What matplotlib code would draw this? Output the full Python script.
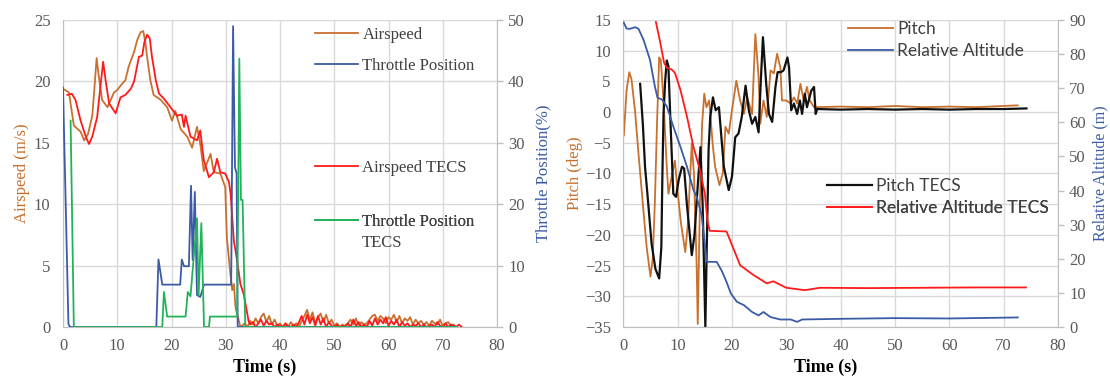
import matplotlib
matplotlib.use("Agg")
import matplotlib.pyplot as plt

# ---------------- LEFT PANEL DATA ----------------
airspeed_t = [0, 1.1, 2.0, 3.25, 3.9, 4.6, 5.4, 5.8, 6.2, 6.6, 7.2, 8.2, 9.4, 10, 10.7,
              11.5, 12.1, 13.1, 13.7, 14.3, 14.8, 15.2, 15.5, 16.1, 16.7, 18, 19.2, 20.1, 20.7, 21.7,
              22.9, 23.8, 24.7, 25.3, 25.95, 27.2, 27.8, 29, 29.9, 30.2, 30.9, 31.2, 31.5, 31.8, 32.7,
              33.0, 33.5, 34.0, 34.5, 35.0, 35.5, 36.0, 36.5, 37.0, 37.5, 38.0, 38.5, 39.0, 39.5, 40.0, 40.5,
              41.0, 41.5, 42.0, 42.5, 43.0, 43.5, 44.0, 44.5, 45.0, 45.5, 46.0, 46.5, 47.0, 47.5, 48.0, 48.5,
              49.0, 49.5, 50.0, 50.5, 51.0, 51.5, 52.0, 52.5, 53.0, 53.5, 54.0, 54.5, 55.0, 55.5, 56.0, 56.5,
              57.0, 57.5, 58.0, 58.5, 59.0, 59.5, 60.0, 60.5, 61.0, 61.5, 62.0, 62.5, 63.0, 63.5, 64.0, 64.5,
              65.0, 65.5, 66.0, 66.5, 67.0, 67.5, 68.0, 68.5, 69.0, 69.5, 70.0, 70.5, 71.0, 71.5, 72.0, 72.5]
airspeed_v = [19.4, 19.1, 16.4, 15.9, 15.2, 15.7, 17.2, 19.5, 21.9, 20.4, 18.5, 17.9, 19.1, 19.3, 19.7,
              20.1, 21.2, 22.4, 23.4, 24.0, 24.1, 23.1, 22.0, 20.1, 18.9, 18.5, 17.9, 16.8, 17.6, 16.1,
              15.5, 14.6, 16.3, 14.9, 12.7, 14.1, 12.6, 12.5, 11.4, 7.3, 4.1, 3.0, 3.5, 1.6, 0.0,
              0.1, 0.3, 0.0, 0.5, 0.2, 0.7, 0.3, 0.8, 1.1, 0.4, 0.9, 0.2, 0.6, 0.1, 0.3, 0.0,
              0.2, 0.0, 0.4, 0.1, 0.3, 0.0, 0.5, 0.9, 1.4, 0.6, 1.2, 0.3, 0.8, 1.1, 0.4, 1.0,
              0.3, 0.6, 0.1, 0.3, 0.0, 0.2, 0.1, 0.3, 0.6, 0.2, 0.7, 0.1, 0.4, 0.2, 0.3, 0.6,
              0.9, 1.0, 0.5, 0.9, 0.7, 0.3, 0.8, 0.6, 1.0, 0.4, 0.9, 0.3, 0.7, 0.5, 0.8, 0.2,
              0.6, 0.3, 0.5, 0.2, 0.4, 0.1, 0.5, 0.3, 0.2, 0.6, 0.1, 0.3, 0.4, 0.1, 0.2, 0.0]

airspeed_tecs_t = [0.8, 1.6, 2.3, 3.25, 4.2, 4.8, 5.4, 6.3, 6.9, 7.4, 7.85, 8.5, 9.7, 10.6, 11.5,
                   12.5, 13.1, 14.0, 14.6, 15.0, 15.5, 16.0, 16.4, 17.1, 17.7, 18.6, 19.8, 21.0, 21.9, 22.3,
                   22.6, 23.5, 24.7, 25.3, 25.95, 26.9, 27.8, 28.4, 29.0, 29.9, 30.6, 30.9, 31.5, 32.1, 32.7,
                   33.3, 33.8, 34.2,
                   34.5, 35.0, 35.5, 36.0, 36.5, 37.0, 37.5, 38.0, 38.5, 39.0, 39.5, 40.0, 40.5, 41.0, 41.5, 42.0,
                   42.5, 43.0, 43.5, 44.0, 44.5, 45.0, 45.5, 46.0, 46.5, 47.0, 47.5, 48.0, 48.5, 49.0, 49.5, 50.0,
                   50.5, 51.0, 51.5, 52.0, 52.5, 53.0, 53.5, 54.0, 54.5, 55.0, 55.5, 56.0, 56.5, 57.0, 57.5, 58.0,
                   58.5, 59.0, 59.5, 60.0, 60.5, 61.0, 61.5, 62.0, 62.5, 63.0, 63.5, 64.0, 64.5, 65.0, 65.5, 66.0,
                   66.5, 67.0, 67.5, 68.0, 68.5, 69.0, 69.5, 70.0, 70.5, 71.0, 71.5, 72.0, 72.5, 73.0, 73.5]
airspeed_tecs_v = [18.9, 19.0, 18.5, 16.8, 15.5, 14.9, 15.5, 17.1, 19.6, 21.6, 20.1, 18.2, 17.4, 18.7, 18.9,
                   19.4, 20.0, 22.0, 22.1, 23.2, 23.8, 23.5, 22.0, 20.1, 19.0, 18.6, 17.9, 17.2, 17.3, 16.3,
                   17.2, 15.5, 15.2, 16.0, 13.6, 12.2, 12.6, 13.7, 12.6, 12.5, 11.8, 10.8, 7.0, 5.4, 3.5,
                   2.7, 1.5, 0.5,
                   0.2, 0.4, 0.0, 0.3, 0.6, 0.1, 0.5, 0.2, 0.3, 0.0, 0.2, 0.1, 0.0, 0.3, 0.1, 0.0,
                   0.2, 0.0, 0.4, 0.9, 0.2, 1.0, 0.3, 0.8, 0.1, 0.9, 0.2, 0.7, 0.0, 0.4, 0.1, 0.0,
                   0.2, 0.0, 0.1, 0.0, 0.3, 0.0, 0.6, 0.1, 0.4, 0.0, 0.2, 0.0, 0.5, 0.1, 0.7, 0.2,
                   0.6, 0.3, 0.8, 0.1, 0.5, 0.2, 0.6, 0.0, 0.4, 0.1, 0.3, 0.0, 0.2, 0.1, 0.3, 0.0,
                   0.2, 0.0, 0.1, 0.2, 0.0, 0.4, 0.1, 0.0, 0.3, 0.0, 0.2, 0.1, 0.0, 0.2, 0.0]

throttle_t = [0, 0.5, 1.0, 1.3, 17.2, 17.6, 18.3, 21.6, 21.9, 22.3, 23.2, 23.6, 23.9, 24.3, 24.7,
              25.3, 26.0, 31.0, 31.35, 31.7, 32.0, 32.2, 72.5]
throttle_v = [39, 20, 0.5, 0, 0, 11, 6.9, 6.9, 11, 9.9, 9.9, 23, 10.9, 22, 5.2,
              4.9, 6.9, 6.9, 49, 26, 25, 0, 0]

throttle_tecs_t = [1.4, 2.0, 18.3, 18.6, 19.2, 22.6, 23.0, 23.5, 24.7, 25.0, 25.5, 26.0, 26.9, 27.1,
                   32.1, 32.5, 32.8, 33.1, 33.6, 72.5]
throttle_tecs_v = [33.6, 0, 0, 5.7, 1.7, 1.7, 5.7, 5.0, 17.7, 5.2, 16.9, 0, 0, 1.7,
                   1.7, 43.7, 20.7, 20.7, 0, 0]

# ---------------- RIGHT PANEL DATA ----------------
pitch_t = [0.1, 0.6, 1.1, 1.5, 2.15, 2.8, 3.6, 4.3, 5.0, 5.4, 5.8, 6.2, 6.6, 6.9, 7.4, 8.0, 8.3, 8.8,
           9.5, 10.0, 10.6, 11.4, 11.9, 12.6, 13.0, 13.5, 13.7, 14.1, 14.5, 14.9, 15.3, 15.8, 16.5,
           16.9, 17.7, 18.3, 18.8, 19.4, 20.0, 20.8, 21.5, 22.2, 22.8, 23.7, 24.3, 24.9, 25.2, 25.8,
           26.4, 27.1, 27.7, 28.3, 28.9, 29.2, 30.0, 30.8, 31.4, 32.0, 32.6, 33.2, 33.8, 34.3, 35.1,
           40.0, 45.0, 50.0, 55.0, 60.0, 65.0, 70.0, 72.6]
pitch_v = [-3.8, 3.5, 6.5, 5.4, 0.3, -6.8, -15, -22, -26.8, -24, -15, -2, 8.9, 8.5, 1.9, -8.9, -13.3, -11,
           -7.9, -13, -18, -22.8, -18, -5.1, -10, -25, -34.5, -15, -2, 3.0, 0.8, 1.9, -5.7,
           -8.9, -11.9, -10, -2.4, -3.5, 0.3, 5.1, 1.9, -0.3, 2.4, -0.3, 12.7, 5.7, -1.9, 1.9,
           -0.8, 6.8, 6.3, 9.5, 7.3, 1.9, 1.9, 1.4, 2.4, 1.4, 4.6, 1.9, 4.1, 1.9, 0.8,
           0.9, 0.8, 1.0, 0.8, 0.9, 0.8, 1.0, 1.1]

pitch_tecs_t = [3.1, 3.6, 4.0, 4.6, 5.2, 5.9, 6.6, 7.0, 7.2, 7.4, 7.7, 8.0, 8.3, 8.7, 9.2, 9.7, 10.2,
                10.8, 11.2, 11.7, 12.6, 13.1, 13.7, 14.2, 14.6, 15.1, 15.4, 15.7, 16.0, 16.5, 17.0, 17.6,
                18.5, 19.4, 20.0, 20.6, 21.2, 21.8, 22.5, 23.1, 23.7, 24.3, 24.9, 25.3, 25.7, 26.3, 26.8,
                27.4, 28.0, 28.4, 29.0, 29.5, 30.2, 30.5, 30.9, 31.4, 32.0, 32.5, 32.9, 33.4, 33.8, 34.6,
                35.1, 35.4, 35.7, 40.0, 45.0, 50.0, 55.0, 60.0, 65.0, 70.0, 74.2]
pitch_tecs_v = [4.6, -2, -8.9, -15, -21.4, -25.5, -27.1, -22, -10, -0.3, 5, 8.4, 7.5, -2, -13.3, -13.8, -11,
                -8.9, -9.2, -15, -23.3, -20, -12, -5.7, -15, -35, -20, -6, -0.8, 2.4, 0.3, 0.8,
                -8.9, -12.7, -10.5, -4.1, -3.5, -0.8, 4.3, 0.3, -1.9, -0.8, -3.3, 5, 12.2, 4.6, -0.3,
                -1.6, 4.1, 6.5, 6.5, 6.8, 8.9, 7.3, 0.3, 1.4, -0.3, 1.9, -0.3, 3.0, 0.8, 3.5,
                4.1, -0.3, 0.5, 0.4, 0.5, 0.4, 0.5, 0.4, 0.5, 0.5, 0.6]

altitude_t = [0.1, 0.6, 1.2, 2.2, 2.8, 3.7, 4.9, 5.8, 6.3, 7.1, 8.0, 9.2, 10.5, 11.7, 12.9, 13.5,
              14.4, 15.0, 15.4, 17.2, 18.2, 19.1, 19.8, 20.9, 22.2, 23.7, 24.9, 25.8, 27.1, 28.9, 30.8,
              32.0, 32.9, 40.0, 50.0, 60.0, 72.6]
altitude_v = [89.2, 87.5, 87.4, 87.9, 87.4, 84.3, 78.4, 70.6, 67.2, 66.7, 64.7, 58.8, 52.9, 47.1, 40.2, 38.2,
              32.9, 24.5, 19.1, 19.1, 16.2, 12.8, 9.8, 7.4, 6.4, 4.4, 3.4, 4.4, 2.9, 2.2, 2.2,
              1.5, 2.2, 2.4, 2.6, 2.5, 2.8]

altitude_tecs_t = [6.0, 6.8, 7.5, 8.0, 8.9, 9.5, 10.5, 11.7, 12.9, 14.1, 15.0, 15.5, 15.9, 19.0, 21.5,
                   24.0, 26.4, 27.6, 30.0, 33.4, 36.2, 45.0, 55.0, 65.0, 74.1]
altitude_tecs_v = [89.4, 83.4, 77.5, 76.0, 75.5, 74.5, 69.6, 61.8, 52.9, 46.0, 39.2, 31.0, 28.2, 28.0, 18.1,
                   15.2, 12.8, 13.4, 11.5, 10.8, 11.5, 11.4, 11.5, 11.6, 11.6]

x_ticks = [0, 10, 20, 30, 40, 50, 60, 70, 80]
airspeed_ticks = [0, 5, 10, 15, 20, 25]
throttle_ticks = [0, 10, 20, 30, 40, 50]
pitch_ticks = [-35, -30, -25, -20, -15, -10, -5, 0, 5, 10, 15]
altitude_ticks = [0, 10, 20, 30, 40, 50, 60, 70, 80, 90]

# ---------------- STYLE ----------------
SERIF = ["Liberation Serif", "DejaVu Serif"]
SANS = ["Lato", "DejaVu Sans"]
C_ORANGE = "#C8702E"
C_BLUE = "#3B5BA5"
C_RED = "#FF1A1A"
C_GREEN = "#22B35A"
C_BLACK = "#111111"
GRID = "#D9D9D9"
SPINE = "#BFBFBF"
TICKC = "#595959"
LW = 1.3
FS = 12

fig = plt.figure(figsize=(11.1, 3.81), dpi=100)
W, H = 1110, 381


def style_axes(ax, axr):
    ax.spines["top"].set_visible(False)
    axr.spines["top"].set_visible(False)
    ax.spines["right"].set_visible(False)
    axr.spines["left"].set_visible(False)
    axr.spines["bottom"].set_visible(False)
    for s in ("left", "bottom"):
        ax.spines[s].set_color(SPINE)
    axr.spines["right"].set_color(SPINE)
    ax.grid(True, color=GRID, lw=1.0)
    ax.set_axisbelow(True)
    ax.tick_params(axis="y", length=0, pad=9, labelsize=FS, labelcolor=TICKC)
    ax.tick_params(axis="x", length=0, pad=8, labelsize=FS, labelcolor=TICKC)
    axr.tick_params(axis="y", length=4, width=1, color=SPINE, pad=4, labelsize=FS, labelcolor=TICKC)
    for lab in ax.get_xticklabels() + ax.get_yticklabels() + axr.get_yticklabels():
        lab.set_family(SERIF)


def set_time_label(ax, cx_px, left_px, width_px):
    ax.set_xlabel("Time (s)", family=SERIF, fontsize=FS + 1, fontweight="bold", color="black")
    ax.xaxis.set_label_coords((cx_px - left_px) / width_px, (327 - 359) / 307.0)


# ---------- left panel ----------
ax1 = fig.add_axes([63 / W, 54 / H, 434 / W, 307 / H])
ax1r = ax1.twinx()
l_as, = ax1.plot(airspeed_t, airspeed_v, color=C_ORANGE, lw=LW)
l_ast, = ax1.plot(airspeed_tecs_t, airspeed_tecs_v, color=C_RED, lw=LW)
l_th, = ax1r.plot(throttle_t, throttle_v, color=C_BLUE, lw=LW)
l_tht, = ax1r.plot(throttle_tecs_t, throttle_tecs_v, color=C_GREEN, lw=LW)
ax1.set_xlim(0, 80)
ax1.set_ylim(0, 25)
ax1r.set_ylim(0, 50)
ax1.set_xticks(x_ticks)
ax1.set_yticks(airspeed_ticks)
ax1r.set_yticks(throttle_ticks)
style_axes(ax1, ax1r)
set_time_label(ax1, 265, 63, 434)
ax1.set_ylabel("Airspeed (m/s)", family=SERIF, fontsize=FS, color=C_ORANGE, labelpad=3)
ax1r.set_ylabel("Throttle Position(%)", family=SERIF, fontsize=FS, color=C_BLUE, labelpad=8)


def add_leg(ax, handle, label, x, y, fam, size):
    leg = ax.legend([handle], [label], loc="center left", bbox_to_anchor=(x, y),
                    bbox_transform=ax.transAxes, frameon=False, borderpad=0, borderaxespad=0,
                    handlelength=2.6, handletextpad=0.25, prop={"family": fam, "size": size})
    for t in leg.get_texts():
        t.set_color("#404040")
    ax.add_artist(leg)
    return leg


yf = lambda py: (327 - py) / 307.0
add_leg(ax1r, l_as, "Airspeed", (315 - 63) / 434, yf(35), SERIF, FS)
add_leg(ax1r, l_th, "Throttle Position", (315 - 63) / 434, yf(66), SERIF, FS)
add_leg(ax1r, l_ast, "Airspeed TECS", (315 - 63) / 434, yf(168), SERIF, FS)
add_leg(ax1r, l_tht, "Throttle Position", (315 - 63) / 434, yf(222), SERIF, FS)
ax1r.text((362 - 63) / 434, yf(243), "TECS", transform=ax1r.transAxes, family=SERIF,
          fontsize=FS, color="#404040", va="center", ha="left")

# ---------- right panel ----------
ax2 = fig.add_axes([623.3 / W, 54 / H, 434.7 / W, 307 / H])
ax2r = ax2.twinx()
l_p, = ax2.plot(pitch_t, pitch_v, color=C_ORANGE, lw=LW)
l_pt, = ax2.plot(pitch_tecs_t, pitch_tecs_v, color=C_BLACK, lw=1.6)
l_alt, = ax2r.plot(altitude_t, altitude_v, color=C_BLUE, lw=LW)
l_altt, = ax2r.plot(altitude_tecs_t, altitude_tecs_v, color=C_RED, lw=LW)
ax2.set_xlim(0, 80)
ax2.set_ylim(-35, 15)
ax2r.set_ylim(0, 90)
ax2.set_xticks(x_ticks)
ax2.set_yticks(pitch_ticks)
ax2r.set_yticks(altitude_ticks)
style_axes(ax2, ax2r)
set_time_label(ax2, 826, 623.3, 434.7)
ax2.set_ylabel("Pitch (deg)", family=SERIF, fontsize=FS, color=C_ORANGE, labelpad=1)
ax2r.set_ylabel("Relative Altitude (m)", family=SERIF, fontsize=FS - 0.5, color=C_BLUE, labelpad=5)

add_leg(ax2r, l_p, "Pitch", (848 - 623.3) / 434.7, yf(29), SANS, FS + 0.5)
add_leg(ax2r, l_alt, "Relative Altitude", (848 - 623.3) / 434.7, yf(51), SANS, FS + 0.5)
add_leg(ax2r, l_pt, "Pitch TECS", (827 - 623.3) / 434.7, yf(186), SANS, FS + 0.5)
add_leg(ax2r, l_altt, "Relative Altitude TECS", (827 - 623.3) / 434.7, yf(208), SANS, FS + 0.5)

fig.savefig("out.png", dpi=100)
